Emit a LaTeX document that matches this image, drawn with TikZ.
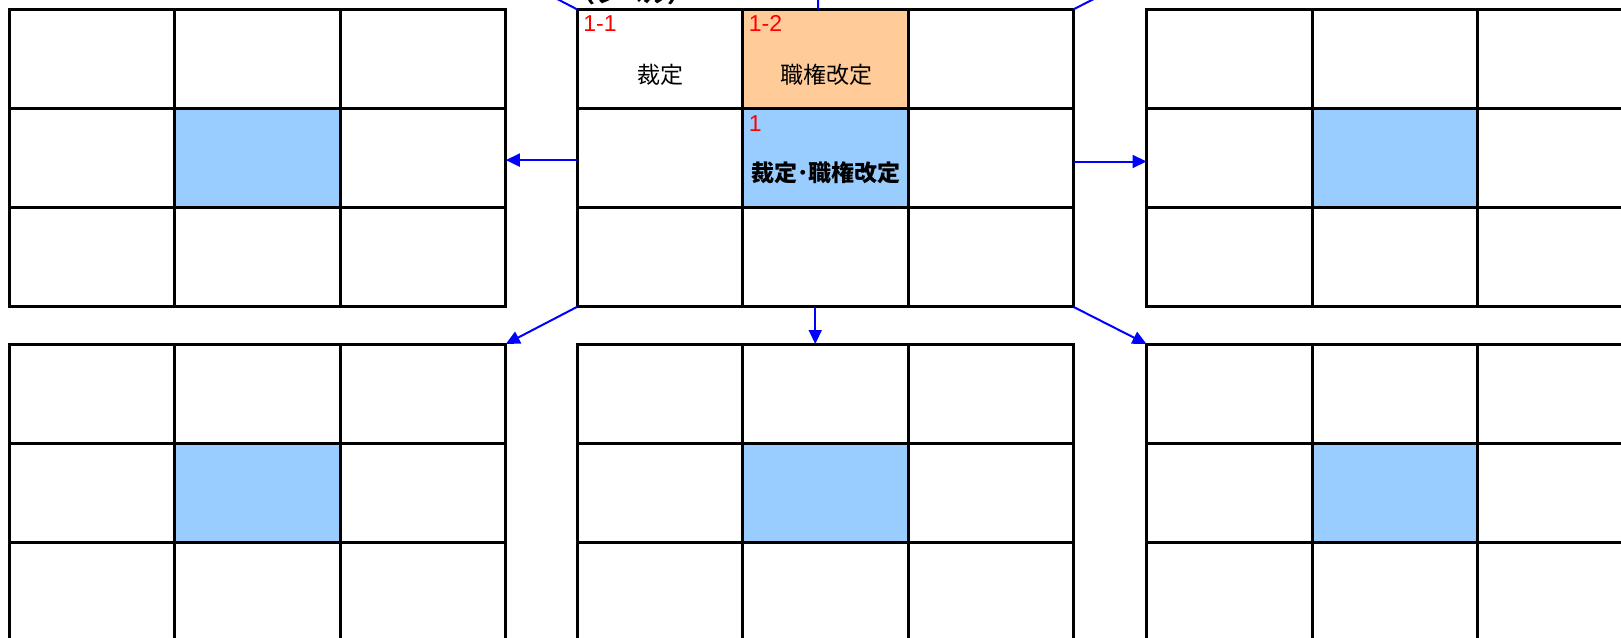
\documentclass[tikz,border=0pt]{standalone}
\usepackage{fontspec}
\setmainfont{Liberation Sans}
\newfontfamily\jpfont{Noto Sans CJK JP}
\usepackage{tikz}
\usetikzlibrary{arrows.meta}

\newcommand{\cellw}{165.5}
\newcommand{\cellh}{99.2}
% one 3x3 table, blue middle cell; #1 name, #2/#3 top left corner
\newcommand{\gridblock}[3]{%
  \fill[midcell] ({#2+\cellw},{#3+\cellh}) rectangle ++(\cellw,\cellh);
  \node[gridframe, anchor=north west] (#1) at (#2,#3) {};
  \foreach \idx in {1,2} {
    \draw[gridline] ({#2+\idx*\cellw},#3) -- ++(0,{3*\cellh});
    \draw[gridline] (#2,{#3+\idx*\cellh}) -- ++({3*\cellw},0);
  }%
}

\begin{document}
\begin{tikzpicture}[
    x=0.5pt, y=-0.5pt,
    gridframe/.style={draw, line width=1.5pt, minimum width=248.25pt, minimum height=148.8pt, inner sep=0pt, outer sep=0pt},
    gridline/.style={line width=1.5pt},
    midcell/.style={fill={rgb,255:red,153;green,204;blue,255}},
    topcell/.style={fill={rgb,255:red,255;green,204;blue,153}},
    arrowline/.style={-{Triangle[length=7pt,width=6.5pt]}, blue, line width=1pt},
    numlbl/.style={text=red, font=\fontsize{11.5}{14}\selectfont, inner sep=0pt},
    celltxt/.style={font=\jpfont\fontsize{11.5}{14}\selectfont, inner sep=0pt},
]
\useasboundingbox (0,0) rectangle (1621,637);
\fill[white] (0,0) rectangle (1621,637);
\clip (0,0) rectangle (1621,637);
% title, cut off at the top
\node[celltxt, font=\jpfont\bfseries\fontsize{12}{14}\selectfont, anchor=base] (lvl) at (631,3) {（レベル）};
% upper row
\fill[topcell] (742.5,9.3) rectangle ++(\cellw,\cellh);
\gridblock{gL}{9.3}{9.3}
\gridblock{gC}{577}{9.3}
\gridblock{gR}{1146.5}{9.3}
% lower row
\gridblock{gBL}{9.3}{344}
\gridblock{gB}{577}{344}
\gridblock{gBR}{1146.5}{344}
% labels
\node[numlbl, anchor=north west] (n11) at (583,15) {1-1};
\node[celltxt] (t11) at (660.5,74.4) {裁定};
\node[numlbl, anchor=north west] (n12) at (748.5,15) {1-2};
\node[celltxt] (t12) at (826,74.4) {職権改定};
\node[numlbl, anchor=north west] (n1) at (748.5,115) {1};
\node[celltxt, font=\jpfont\bfseries\fontsize{11.5}{14}\selectfont] (t1) at (826,172.6) {裁定･職権改定};
% tables above, out of view
\coordinate (tUL) at (505.8,-27.7);
\coordinate (tU) at (818,-27.7);
\coordinate (tUR) at (1146.5,-27.7);
% arrows
\draw[arrowline] (gC.north west) -- (tUL);
\draw[arrowline] ([xshift=-3.6pt]gC.north) -- (tU);
\draw[arrowline] (gC.north east) -- (tUR);
\draw[arrowline] ([yshift=-1pt]gC.west) -- ([yshift=-1pt]gL.east);
\draw[arrowline] ([yshift=-1.7pt]gC.east) -- ([yshift=-1.7pt]gR.west);
\draw[arrowline] (gC.south west) -- (gBL.north east);
\draw[arrowline] ([xshift=-5pt]gC.south) -- ([xshift=-5pt]gB.north);
\draw[arrowline] (gC.south east) -- (gBR.north west);
\end{tikzpicture}
\end{document}
